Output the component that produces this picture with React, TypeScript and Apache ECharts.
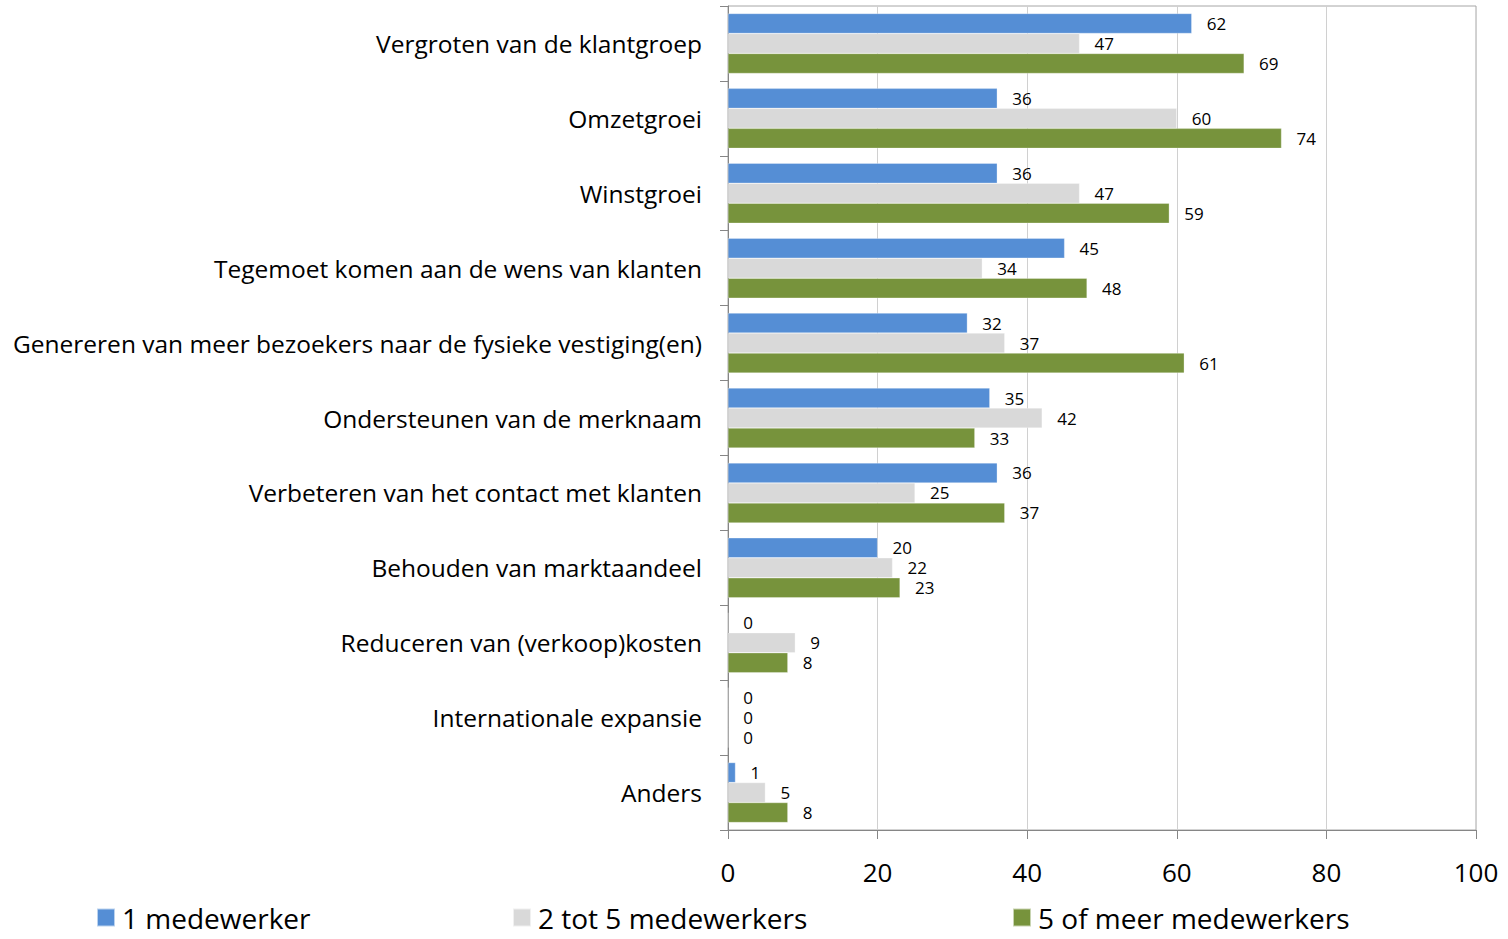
import React, { useEffect, useRef } from "react";
import * as echarts from "echarts";

const categories = [
  "Vergroten van de klantgroep",
  "Omzetgroei",
  "Winstgroei",
  "Tegemoet komen aan de wens van klanten",
  "Genereren van meer bezoekers naar de fysieke vestiging(en)",
  "Ondersteunen van de merknaam",
  "Verbeteren van het contact met klanten",
  "Behouden van marktaandeel",
  "Reduceren van (verkoop)kosten",
  "Internationale expansie",
  "Anders",
];
const seriesNames = ["1 medewerker", "2 tot 5 medewerkers", "5 of meer medewerkers"];
const oneEmployee = [62, 36, 36, 45, 32, 35, 36, 20, 0, 0, 1];
const twoToFive = [47, 60, 47, 34, 37, 42, 25, 22, 9, 0, 5];
const fiveOrMore = [69, 74, 59, 48, 61, 33, 37, 23, 8, 0, 8];
const colors = ["#558ED5", "#D9D9D9", "#77933C"];

const FONT = "'Open Sans', sans-serif";

export default function App() {
  const ref = useRef<HTMLDivElement>(null);
  useEffect(() => {
    if (!ref.current) return;
    const chart = echarts.init(ref.current, undefined, { renderer: "svg" });
    const values = [oneEmployee, twoToFive, fiveOrMore];
    const legendLefts = [96, 512, 1012];
    chart.setOption({
      animation: false,
      textStyle: { fontFamily: FONT },
      grid: {
        left: 728,
        top: 6,
        right: 32,
        bottom: 109,
        show: true,
        borderColor: "#A6A6A6",
        borderWidth: 1,
      },
      legend: seriesNames.map((n, i) => ({
        data: [n],
        left: legendLefts[i],
        top: 903,
        padding: 0,
        icon: "rect",
        itemWidth: 18,
        itemHeight: 18,
        itemGap: 8,
        textStyle: { fontSize: 28, lineHeight: 29, color: "#000", fontFamily: FONT, padding: [0, 0, 0, 2] },
      })),
      xAxis: {
        type: "value",
        min: 0,
        max: 100,
        interval: 20,
        axisLine: { show: true, lineStyle: { color: "#868686" } },
        axisTick: { show: true, length: 9, lineStyle: { color: "#868686" } },
        axisLabel: { fontSize: 26, color: "#000", margin: 29, fontFamily: FONT },
        splitLine: { show: true, lineStyle: { color: "#D0D0D0" } },
      },
      yAxis: {
        type: "category",
        data: categories,
        inverse: true,
        axisLine: { show: true, lineStyle: { color: "#868686" } },
        axisTick: { show: true, length: 8, alignWithLabel: false, lineStyle: { color: "#868686" } },
        axisLabel: { fontSize: 24.5, color: "#000", margin: 26, fontFamily: FONT },
        splitLine: { show: false },
      },
      series: seriesNames.map((n, i) => ({
        name: n,
        type: "bar",
        data: values[i],
        barWidth: 20,
        barGap: "0%",
        itemStyle: { color: colors[i], borderColor: "rgba(255,255,255,0.6)", borderWidth: 0.5 },
        label: {
          show: true,
          position: "right",
          distance: 15,
          fontSize: 17,
          lineHeight: 19,
          color: "#000",
          fontFamily: FONT,
        },
      })),
    });
    return () => chart.dispose();
  }, []);
  return <div ref={ref} style={{ width: 1508, height: 939, position: "absolute", left: 0, top: 0 }} />;
}
